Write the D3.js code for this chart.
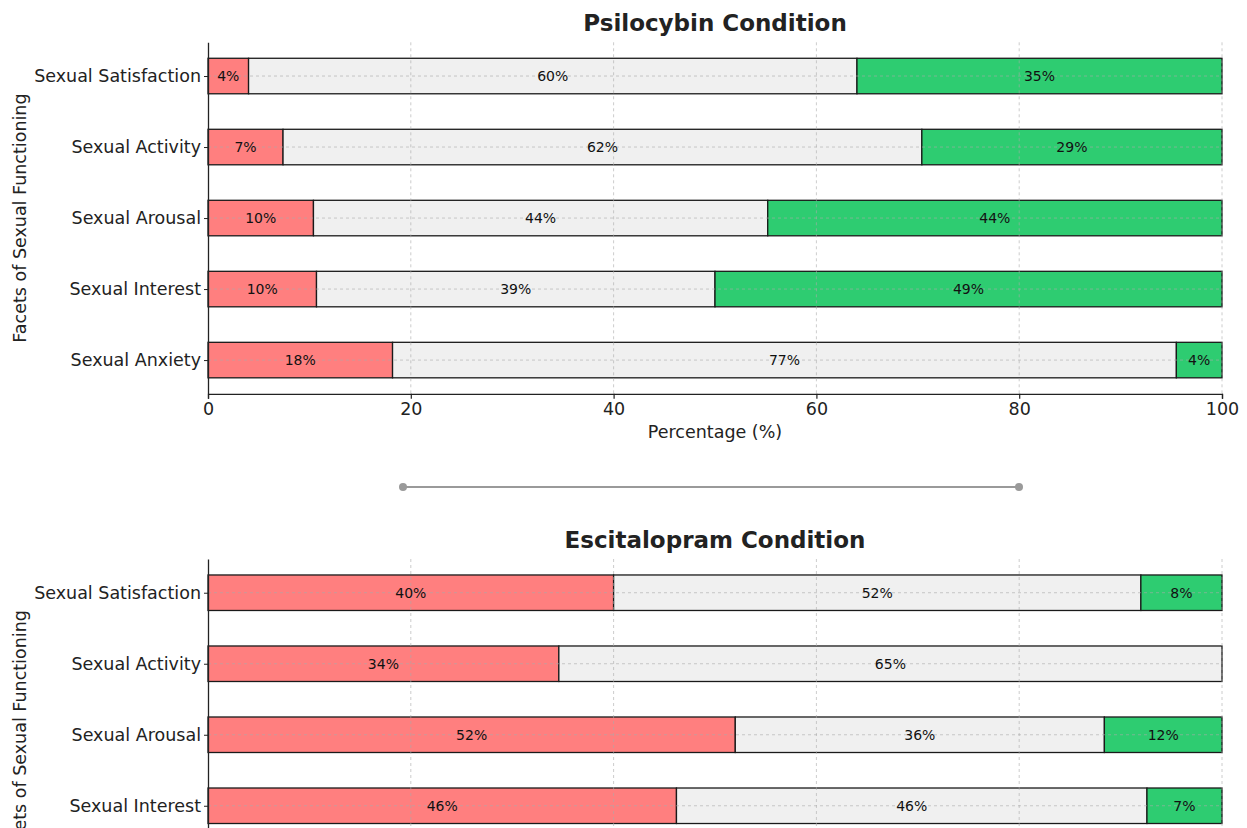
<!DOCTYPE html>
<html><head><meta charset="utf-8">
<script src="https://cdn.jsdelivr.net/npm/d3@7"></script>
<style>body{margin:0;background:#fff;overflow:hidden}text{font-family:"DejaVu Sans",sans-serif}</style>
</head><body><svg id="chart" width="1247" height="828"></svg>
<script>
// categories, bottom (index 0) to top
const categories = ["Sexual Anxiety","Sexual Interest","Sexual Arousal","Sexual Activity","Sexual Satisfaction"];
const xTicks = [0,20,40,60,80,100];
const panelTitles = ["Psilocybin Condition","Escitalopram Condition"];

// Psilocybin: segment widths (%) and printed labels
const psiWorse  = [18.2, 10.7, 10.4, 7.4, 4.0];
const psiSame   = [77.3, 39.3, 44.8, 63.0, 60.0];
const psiBetter = [4.5, 50.0, 44.8, 29.6, 36.0];
const psiWorseLbl  = [18, 10, 10, 7, 4];
const psiSameLbl   = [77, 39, 44, 62, 60];
const psiBetterLbl = [4, 49, 44, 29, 35];

// Escitalopram (Sexual Anxiety row falls outside the picture)
const escWorse  = [null, 46.2, 52.0, 34.6, 40.0];
const escSame   = [null, 46.4, 36.4, 65.4, 52.0];
const escBetter = [null, 7.4, 11.6, 0, 8.0];
const escWorseLbl  = [null, 46, 52, 34, 40];
const escSameLbl   = [null, 46, 36, 65, 52];
const escBetterLbl = [null, 7, 12, null, 8];

const colors = ["#ff7f7f", "#f0f0f0", "#2ecc71"];

const svg = d3.select("#chart");
const x = d3.scaleLinear().domain([0,100]).range([208,1222]);
const H = 828;

function panel(top, title, worse, same, better, lw, ls, lb) {
  const bottom = top + 351.5;
  const y = d3.scaleLinear().domain([-0.475, 4.475]).range([bottom, top]);
  const g = svg.append("g");
  const half = 0.25;

  categories.forEach((c, i) => {
    if (worse[i] == null) return;
    const segs = [worse[i], same[i], better[i]];
    let start = 0;
    segs.forEach((v, k) => {
      if (v > 0) {
        g.append("rect")
          .attr("x", x(start)).attr("y", y(i + half))
          .attr("width", x(start + v) - x(start))
          .attr("height", y(i - half) - y(i + half))
          .attr("fill", colors[k]).attr("stroke", "#1a1a1a").attr("stroke-width", 1.3);
      }
      start += v;
    });
  });

  const grid = g.append("g").attr("stroke", "rgba(170,170,170,0.6)").attr("stroke-dasharray", "3,3").attr("stroke-width", 1);
  xTicks.slice(1).forEach(t => grid.append("line").attr("x1", x(t)).attr("x2", x(t)).attr("y1", top).attr("y2", Math.min(bottom, H)));
  categories.forEach((c, i) => { if (y(i) < H) grid.append("line").attr("x1", x(0)).attr("x2", x(100)).attr("y1", y(i)).attr("y2", y(i)); });

  categories.forEach((c, i) => {
    if (worse[i] == null) return;
    const segs = [[worse[i], lw[i]], [same[i], ls[i]], [better[i], lb[i]]];
    let start = 0;
    segs.forEach(([v, lab]) => {
      if (v > 0 && lab != null) {
        g.append("text").attr("x", x(start + v / 2)).attr("y", y(i)).attr("dy", "0.36em")
          .attr("text-anchor", "middle").attr("font-size", 14).attr("fill", "#111").text(lab + "%");
      }
      start += v;
    });
  });

  // x axis only when it lies inside the picture
  if (bottom < H) {
    const xa = g.append("g").attr("transform", `translate(0,${bottom})`)
      .call(d3.axisBottom(x).tickValues(xTicks).tickSize(5).tickPadding(4).tickFormat(d3.format("d")));
    xa.select(".domain").attr("stroke", "#222").attr("stroke-width", 1.3);
    xa.selectAll(".tick line").attr("stroke", "#222").attr("stroke-width", 1.2);
    xa.selectAll("text").attr("font-size", 17.5).attr("fill", "#222").attr("font-family", "DejaVu Sans");
    g.append("text").attr("x", (x(0) + x(100)) / 2).attr("y", bottom + 38).attr("dy", "0.35em")
      .attr("text-anchor", "middle").attr("font-size", 17.5).attr("fill", "#222").text("Percentage (%)");
  }

  const visibleIdx = d3.range(categories.length).filter(i => y(i) < H - 10);
  const ya = g.append("g").attr("transform", `translate(${x(0)},0)`)
    .call(d3.axisLeft(y).tickValues(visibleIdx).tickFormat(i => categories[i]).tickSize(4).tickPadding(3).tickSizeOuter(0));
  ya.select(".domain").attr("stroke", "#222").attr("stroke-width", 1.3);
  ya.selectAll(".tick line").attr("stroke", "#222");
  ya.selectAll("text").attr("font-size", 17.5).attr("fill", "#222").attr("font-family", "DejaVu Sans");

  g.append("text").attr("x", (x(0) + x(100)) / 2).attr("y", top - 19).attr("dy", "0.35em")
    .attr("text-anchor", "middle").attr("font-size", 23).attr("font-weight", "bold").attr("fill", "#222").text(title);
  g.append("text").attr("transform", `translate(20,${(top + bottom) / 2}) rotate(-90)`)
    .attr("text-anchor", "middle").attr("dy", "0.35em").attr("font-size", 17.5).attr("fill", "#222").text("Facets of Sexual Functioning");
  return bottom;
}

panel(42.3, panelTitles[0], psiWorse, psiSame, psiBetter, psiWorseLbl, psiSameLbl, psiBetterLbl);

const sep = svg.append("g");
sep.append("line").attr("x1", 403).attr("x2", 1019).attr("y1", 487).attr("y2", 487).attr("stroke", "#9a9a9a").attr("stroke-width", 2);
[403, 1019].forEach(cx => sep.append("circle").attr("cx", cx).attr("cy", 487).attr("r", 4).attr("fill", "#9a9a9a"));

panel(559, panelTitles[1], escWorse, escSame, escBetter, escWorseLbl, escSameLbl, escBetterLbl);
</script></body></html>
